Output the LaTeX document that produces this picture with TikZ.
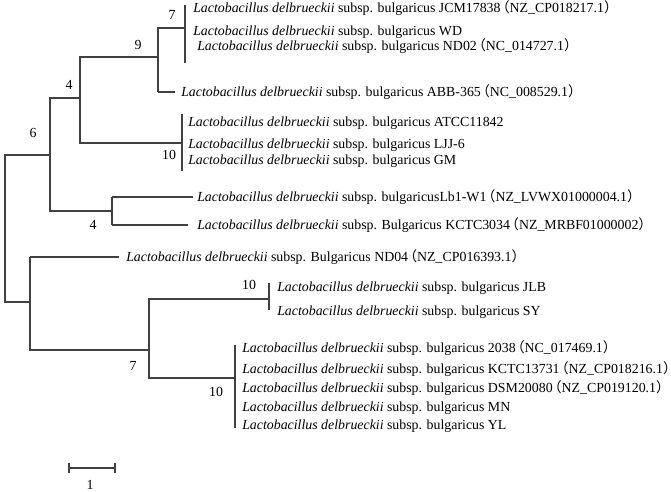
\documentclass[tikz,border=0pt]{standalone}
\usepackage{fontspec}
\setmainfont{Liberation Serif}
\newfontfamily\cjk{Noto Sans CJK SC}
\usetikzlibrary{positioning}
\newcommand{\ldb}{\textit{Lactobacillus delbrueckii}}
\newcommand{\acc}[1]{{\cjk\kern-0.35em（}#1{\cjk）\kern-0.35em}}
\tikzset{
	leaf/.style={anchor=west, inner sep=0pt, font=\fontsize{10.4}{12}\selectfont},
	branch/.style={draw=black!75, line width=0.8pt},
	support/.style={inner sep=0pt, font=\fontsize{10.4}{12}\selectfont}
}
\begin{document}
\begin{tikzpicture}[x=0.75pt, y=-0.75pt]
	\useasboundingbox (0,0) rectangle (671,492);
	% internal nodes
	\coordinate (rt) at (5,155);   \coordinate (rb) at (5,302);
	\coordinate (n1t) at (50,98);  \coordinate (n1b) at (50,211);
	\coordinate (n2t) at (80,57);  \coordinate (n2b) at (80,143);
	\coordinate (n3t) at (158,28); \coordinate (n3b) at (158,92);
	\coordinate (n4t) at (112,197); \coordinate (n4b) at (112,225);
	\coordinate (n5t) at (30,257); \coordinate (n5b) at (30,350);
	\coordinate (n6t) at (149,299); \coordinate (n6b) at (149,378);
	\coordinate (gAt) at (185,5);   \coordinate (gAb) at (185,63);
	\coordinate (gBt) at (182,114); \coordinate (gBb) at (182,171);
	\coordinate (gCt) at (269,283); \coordinate (gCb) at (269,310);
	\coordinate (gDt) at (235,345); \coordinate (gDb) at (235,428);

	% leaves
	\node[leaf] (jcm) at (193,8) {\ldb{} subsp. bulgaricus JCM17838\acc{NZ\_CP018217.1}};
	\node[leaf] (wd) at (193,32) {\ldb{} subsp. bulgaricus WD};
	\node[leaf] (nd02) at (197,46) {\ldb{} subsp. bulgaricus ND02\acc{NC\_014727.1}};
	\node[leaf] (abb) at (181,92) {\ldb{} subsp. bulgaricus ABB-365\acc{NC\_008529.1}};
	\node[leaf] (atcc) at (188,123) {\ldb{} subsp. bulgaricus ATCC11842};
	\node[leaf] (ljj) at (188,145) {\ldb{} subsp. bulgaricus LJJ-6};
	\node[leaf] (gm) at (188,161) {\ldb{} subsp. bulgaricus GM};
	\node[leaf] (lbw) at (197,197) {\ldb{} subsp. bulgaricusLb1-W1\acc{NZ\_LVWX01000004.1}};
	\node[leaf] (kc34) at (197,225) {\ldb{} subsp. Bulgaricus KCTC3034\acc{NZ\_MRBF01000002}};
	\node[leaf] (nd04) at (126,257) {\ldb{} subsp. Bulgaricus ND04\acc{NZ\_CP016393.1}};
	\node[leaf] (jlb) at (277,288) {\ldb{} subsp. bulgaricus JLB};
	\node[leaf] (sy) at (277,312) {\ldb{} subsp. bulgaricus SY};
	\node[leaf] (s2038) at (242,348) {\ldb{} subsp. bulgaricus 2038\acc{NC\_017469.1}};
	\node[leaf] (kc731) at (242,369) {\ldb{} subsp. bulgaricus KCTC13731\acc{NZ\_CP018216.1}};
	\node[leaf] (dsm) at (242,388) {\ldb{} subsp. bulgaricus DSM20080\acc{NZ\_CP019120.1}};
	\node[leaf] (mn) at (242,408) {\ldb{} subsp. bulgaricus MN};
	\node[leaf] (yl) at (242,426) {\ldb{} subsp. bulgaricus YL};

	% branches
	\draw[branch] (rt -| n1t) -- (rt) -- (rb) -- (rb -| n5t);
	\draw[branch] (n1t -| n2t) -- (n1t) -- (n1b) -- (n1b -| n4t);
	\draw[branch] (n2t -| n3t) -- (n2t) -- (n2b) -- (n2b -| gBt);
	\draw[branch] (n3t -| gAt) -- (n3t) -- (n3b);
	\draw[branch, shorten >=4.5pt] (n3b) -- (abb.west);
	\draw[branch] (n4t) -- (n4b);
	\draw[branch, shorten >=3pt] (n4t) -- (lbw.west);
	\draw[branch, shorten >=6.5pt] (n4b) -- (kc34.west);
	\draw[branch] (n5b -| n6t) -- (n5b) -- (n5t);
	\draw[branch, shorten >=5pt] (n5t) -- (nd04.west);
	\draw[branch] (n6t -| gCt) -- (n6t) -- (n6b) -- (n6b -| gDt);
	\draw[branch] (gAt) -- (gAb);
	\draw[branch] (gBt) -- (gBb);
	\draw[branch] (gCt) -- (gCb);
	\draw[branch] (gDt) -- (gDb);

	% bootstrap values
	\node[support] (b7a) at (172,15) {7};
	\node[support] (b9) at (138,45) {9};
	\node[support] (b4a) at (69,85) {4};
	\node[support] (b6) at (33,133) {6};
	\node[support] (b10a) at (169,155) {10};
	\node[support] (b4b) at (93,225) {4};
	\node[support] (b10b) at (249,285) {10};
	\node[support] (b7b) at (133,366) {7};
	\node[support] (b10c) at (216,392) {10};

	% scale bar
	\coordinate (sbL) at (69,468); \coordinate (sbR) at (115,468);
	\draw[branch] (sbL) -- (sbR);
	\draw[branch] ([yshift=4pt]sbL) -- ([yshift=-4pt]sbL);
	\draw[branch] ([yshift=4pt]sbR) -- ([yshift=-4pt]sbR);
	\node[support] (sblab) at (90,485) {1};
\end{tikzpicture}
\end{document}
